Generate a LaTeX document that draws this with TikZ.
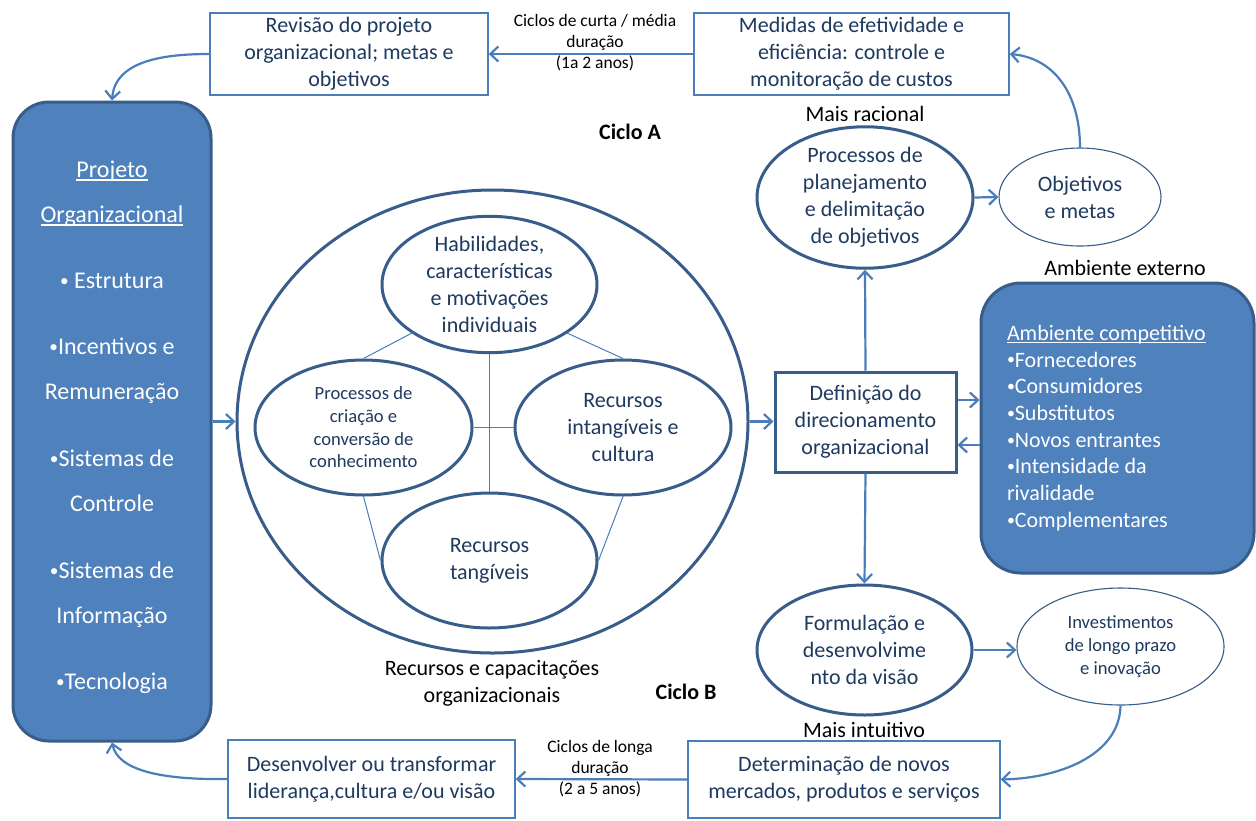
\documentclass[tikz,border=0pt]{standalone}
\usepackage{fontspec}
\setmainfont{Carlito}
\usetikzlibrary{arrows.meta,shapes.geometric,calc}
\definecolor{acc}{HTML}{4A7EBB}
\definecolor{dk}{HTML}{385D8A}
\definecolor{fillb}{HTML}{4F81BD}
\definecolor{txt}{HTML}{1F3A5F}
% underline sitting just below the baseline
\newcommand\ulx[1]{\leavevmode\setbox0\hbox{#1}\rlap{\rule[-2.6pt]{\wd0}{1.2pt}}\box0}
% small list bullet
\newcommand\bul{\raisebox{0.1em}{\scalebox{0.72}{•}}}
\begin{document}
\begin{tikzpicture}[x=1pt,y=-1pt,
  bigtxt/.style={font=\fontsize{22}{27}\selectfont, text=txt, align=center},
  smalltxt/.style={font=\fontsize{18.6}{22.7}\selectfont, text=txt, align=center},
  lbl/.style={font=\fontsize{17.5}{21}\selectfont, text=black, align=center},
  note/.style={font=\fontsize{22}{27}\selectfont, text=black, align=center},
  thinbox/.style={rectangle, draw=acc, line width=1.4pt, inner sep=0pt},
  thickbox/.style={rectangle, draw=dk, line width=3pt, inner sep=0pt},
  ring/.style={ellipse, draw=dk, line width=3pt, inner sep=0pt},
  thinring/.style={ellipse, draw=dk, line width=1.1pt, inner sep=0pt},
  panel/.style={rectangle, rounded corners=36pt, fill=fillb, draw=dk, line width=3pt, inner sep=0pt},
  arr/.style={draw=acc, line width=2.2pt, -{Straight Barb[length=8pt,width=15pt]}},
  link/.style={draw=acc, line width=1pt}]
\fill[white] (0,0) rectangle (1256,820);
\useasboundingbox (0,0) rectangle (1256,820);

% ---- top row (cycle A) ----
\node[thinbox, bigtxt, minimum width=278pt, minimum height=82pt] (rev) at (349,54)
  {Revisão do projeto\\organizacional; metas e\\objetivos};
\node[thinbox, bigtxt, minimum width=315pt, minimum height=82pt] (med) at (851.5,54)
  {Medidas de efetividade e\\eficiência: controle e\\monitoração de custos};
\node[lbl] (lblA) at (595,43) {Ciclos de curta / média\\duração\\(1a 2 anos)};
\draw[arr] (med.west) -- (rev.east);

\node[note] (racional) at (865,114) {Mais racional};
\node[note, font=\fontsize{22}{27}\selectfont\bfseries] (cicloA) at (630,132) {Ciclo A};

% ---- organisational design panel ----
\node[panel, minimum width=198pt, minimum height=639pt, text=white, align=center,
  font=\fontsize{24}{45}\selectfont] (bb) at (112,421.5)
  {\rule{0pt}{29pt}\ulx{Projeto}\\\ulx{Organizacional}\\[21pt]
   \bul\ Estrutura\\[21pt]
   \bul Incentivos e\\Remuneração\\[22pt]
   \bul Sistemas de\\Controle\\[22pt]
   \bul Sistemas de\\Informação\\[21pt]
   \bul Tecnologia};

% ---- resources and capabilities ----
\node[ring, minimum width=511pt, minimum height=463pt] (big) at (492.5,421.5) {};
\node[ring, bigtxt, minimum width=215pt, minimum height=135pt] (hab) at (489.5,284.5)
  {Habilidades,\\características\\e motivações\\individuais};
\node[ring, smalltxt, minimum width=217pt, minimum height=135pt] (pro) at (363.5,427.5)
  {Processos de\\criação e\\conversão de\\conhecimento};
\node[ring, bigtxt, minimum width=216pt, minimum height=135pt] (intg) at (623,427.5)
  {Recursos\\intangíveis e\\cultura};
\node[ring, bigtxt, minimum width=215pt, minimum height=135pt] (tang) at (489.5,560.5)
  {Recursos\\tangíveis};
\draw[link] (hab.212) -- (pro.90);
\draw[link] (hab.328) -- (intg.90);
\draw[link] (hab.270) -- (tang.90);
\draw[link] (pro.0) -- (intg.180);
\draw[link] (pro.270) -- (tang.180);
\draw[link] (intg.270) -- (tang.0);
\node[note] (rec) at (492,683) {Recursos e capacitações\\organizacionais};
\node[note, font=\fontsize{22}{27}\selectfont\bfseries] (cicloB) at (686,692) {Ciclo B};

% ---- direction setting ----
\node[thickbox, bigtxt, minimum width=181pt, minimum height=100pt] (def) at (865.5,422)
  {Definição do\\direcionamento\\organizacional};
\node[ring, bigtxt, minimum width=216pt, minimum height=135pt] (plan) at (865,197.5)
  {Processos de\\planejamento\\e delimitação\\de objetivos};
\node[thinring, bigtxt, minimum width=162pt, minimum height=98pt] (obj) at (1080,197)
  {Objetivos\\e metas};
\node[note] (ext) at (1125,268) {Ambiente externo};
\node[panel, rounded corners=40pt, minimum width=273pt, minimum height=290pt, text=white,
  align=flush left, text width=221pt, font=\fontsize{22}{26.7}\selectfont] (amb) at (1117.5,428)
  {\ulx{Ambiente competitivo}\\\bul Fornecedores\\\bul Consumidores\\\bul Substitutos\\\bul Novos entrantes\\\bul Intensidade da\\rivalidade\\\bul Complementares};
\node[ring, bigtxt, minimum width=215pt, minimum height=130pt] (form) at (864.5,650)
  {Formulação e\\desenvolvime\\nto da visão};
\node[thinring, smalltxt, minimum width=207pt, minimum height=117pt] (inv) at (1120.5,646.5)
  {Investimentos\\de longo prazo\\e inovação};
\node[note] (intu) at (864,730) {Mais intuitivo};

\draw[arr] (bb.east) -- (big.west);
\draw[arr] (big.east) -- (def.west |- big.east);
\draw[arr] (def.north) -- (plan.south);
\draw[arr] (def.south) -- (form.north);
\draw[arr] (plan.east) -- (obj.west);
\draw[arr] (form.east) -- (form.east -| inv.west);
\draw[arr] ([yshift=22pt]def.east) -- ([yshift=22pt]def.east -| amb.west);
\draw[arr] ([yshift=-23pt]def.east -| amb.west) -- ([yshift=-23pt]def.east);

% ---- bottom row (cycle B) ----
\node[thinbox, bigtxt, minimum width=312pt, minimum height=77pt] (det) at (844,779.5)
  {Determinação de novos\\mercados, produtos e serviços};
\node[thinbox, bigtxt, minimum width=287pt, minimum height=78pt] (des) at (371.5,779)
  {Desenvolver ou transformar\\liderança,cultura e/ou visão};
\node[lbl] (lblB) at (600,769) {Ciclos de longa\\duração\\(2 a 5 anos)};
\draw[arr] (det.west) -- (des.east);

% ---- returning curves ----
\draw[arr] (rev.west) .. controls (160,54) and (115,62) .. (bb.north);
\draw[arr] (obj.north) .. controls (1080,95) and (1055,58) .. (med.east);
\draw[arr] (inv.south) .. controls (1120,752) and (1065,778) .. (det.east);
\draw[arr] (des.west) .. controls (160,780) and (118,770) .. (bb.south);
\end{tikzpicture}
\end{document}
